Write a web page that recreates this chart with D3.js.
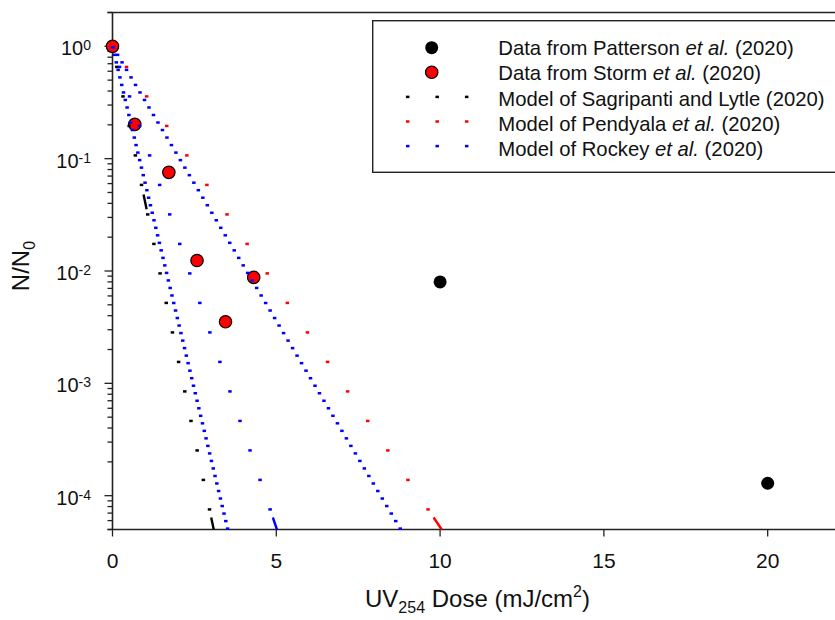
<!DOCTYPE html>
<html>
<head>
	<meta charset="UTF-8">
	<title>UV254 inactivation</title>
	<script type="text/javascript" src="https://cdnjs.cloudflare.com/ajax/libs/d3/7.8.5/d3.min.js"></script>
	<style>
		body { margin: 0; background: #fff; }
		text { font-family: Arial, "Liberation Sans", sans-serif; fill: #111; }
	</style>
</head>
<body>
	<div id="chart"></div>
	<script type="text/javascript">
	// measured data (dose in mJ/cm2, survival N/N0)
	var pattersonDose = [10, 20];
	var pattersonRatio = [0.0080, 0.000129];

	var stormDose = [0, 0.68, 1.72, 2.58, 3.45, 4.31];
	var stormRatio = [1, 0.202, 0.0755, 0.0124, 0.00353, 0.00877];

	// model lines: straight on log axis from (0, 1) down to the bottom of the axis
	var modelColor = ["black", "red", "blue", "blue", "blue"];
	var modelStyle = ["sparse", "sparse", "dense", "sparse", "dense"];
	var modelStartDose = [0, 0, 0, 0, 0];
	var modelStartRatio = [1, 1, 1, 1, 1];
	var modelEndDose = [3.09, 10.05, 3.52, 5.02, 8.8];
	var modelEndRatio = [5e-5, 5e-5, 5e-5, 5e-5, 5e-5];
	var sagripantiDash = [0.048, 0.0355];

	var xTicks = [0, 5, 10, 15, 20];
	var yTicks = [1, 0.1, 0.01, 0.001, 0.0001];
	var yTickExp = ["0", "-1", "-2", "-3", "-4"];

	var legendLabels = [
		["Data from Patterson ", "et al.", " (2020)"],
		["Data from Storm ", "et al.", " (2020)"],
		["Model of Sagripanti and Lytle (2020)", "", ""],
		["Model of Pendyala ", "et al.", " (2020)"],
		["Model of Rockey ", "et al.", " (2020)"]
	];
	var legendKind = ["black", "red", "black", "red", "blue"];

	var width = 835, height = 620;
	var svg = d3.select("#chart").append("svg").attr("width", width).attr("height", height);

	var x = d3.scaleLinear().domain([0, 22]).range([112.5, 833.2]);
	var y = d3.scaleLog().domain([5e-5, 2]).range([529.5, 12.5]);
	var axisColor = "#222";

	// frame: left axis, bottom axis, top line
	svg.append("line").attr("x1", x(0)).attr("x2", x(0)).attr("y1", y(2)).attr("y2", y(5e-5))
		.attr("stroke", axisColor).attr("stroke-width", 1.6);
	svg.append("line").attr("x1", x(0) - 5).attr("x2", width).attr("y1", y(5e-5)).attr("y2", y(5e-5))
		.attr("stroke", axisColor).attr("stroke-width", 1.6);
	svg.append("line").attr("x1", x(0) - 5).attr("x2", width).attr("y1", y(2)).attr("y2", y(2))
		.attr("stroke", axisColor).attr("stroke-width", 1.6);

	// x ticks
	xTicks.forEach(function(t) {
		svg.append("line").attr("x1", x(t)).attr("x2", x(t)).attr("y1", y(5e-5)).attr("y2", y(5e-5) + 7)
			.attr("stroke", axisColor).attr("stroke-width", 1.3);
		svg.append("text").attr("x", x(t)).attr("y", y(5e-5) + 38)
			.attr("text-anchor", "middle").style("font-size", "21px").text(t);
	});

	// y ticks, major and minor
	var minor = [];
	for (var p = -5; p <= 0; p++) {
		for (var m = 2; m <= 9; m++) {
			var v = m * Math.pow(10, p);
			if (v >= 5e-5 && v <= 2) minor.push(v);
		}
	}
	minor.forEach(function(v) {
		svg.append("line").attr("x1", x(0) - 5).attr("x2", x(0)).attr("y1", y(v)).attr("y2", y(v))
			.attr("stroke", axisColor).attr("stroke-width", 1.3);
	});
	yTicks.forEach(function(t, i) {
		svg.append("line").attr("x1", x(0) - 8).attr("x2", x(0)).attr("y1", y(t)).attr("y2", y(t))
			.attr("stroke", axisColor).attr("stroke-width", 1.3);
		var lab = svg.append("text").attr("x", 91).attr("y", y(t) + 9)
			.attr("text-anchor", "end").style("font-size", "20px");
		lab.append("tspan").text("10");
		lab.append("tspan").attr("dy", -5).style("font-size", "14px").text(yTickExp[i]);
	});

	// axis titles
	var xt = svg.append("text").attr("x", 365).attr("y", 607).style("font-size", "24px");
	xt.append("tspan").text("UV");
	xt.append("tspan").attr("dy", 6).style("font-size", "16px").text("254");
	xt.append("tspan").attr("dy", -6).text(" Dose (mJ/cm");
	xt.append("tspan").attr("dy", -10).style("font-size", "16px").text("2");
	xt.append("tspan").attr("dy", 10).text(")");

	var yt = svg.append("text").attr("transform", "translate(29,266) rotate(-90)")
		.attr("text-anchor", "middle").style("font-size", "24px");
	yt.append("tspan").text("N/N");
	yt.append("tspan").attr("dy", 6).style("font-size", "16px").text("0");

	// data markers
	pattersonDose.forEach(function(d, i) {
		svg.append("circle").attr("cx", x(d)).attr("cy", y(pattersonRatio[i])).attr("r", 6.5)
			.attr("fill", "black");
	});
	stormDose.forEach(function(d, i) {
		svg.append("circle").attr("cx", x(d)).attr("cy", y(stormRatio[i])).attr("r", 6.2)
			.attr("fill", "red").attr("stroke", "black").attr("stroke-width", 1.2);
	});

	// model lines drawn as dotted runs, dots evenly spaced in y
	function dot(cx, cy, color) {
		svg.append("rect").attr("x", cx - 1.75).attr("y", cy - 1.25)
			.attr("width", 3.5).attr("height", 2.5).attr("fill", color);
	}
	modelEndDose.forEach(function(d, i) {
		var x0 = x(modelStartDose[i]), y0 = y(modelStartRatio[i]);
		var x1 = x(d), y1 = y(modelEndRatio[i]);
		var xAt = function(py) { return x0 + (x1 - x0) * (py - y0) / (y1 - y0); };
		var color = modelColor[i];
		if (modelStyle[i] == "dense") {
			for (var py = y0 + 1; py <= y1 + 0.5; py += 7.52) dot(xAt(py), py, color);
		} else {
			for (var py = y0 + 20.6; py <= y1 - 12; py += 29.5) dot(xAt(py), py, color);
			svg.append("line").attr("x1", xAt(y1 - 12)).attr("y1", y1 - 12).attr("x2", x1).attr("y2", y1)
				.attr("stroke", color).attr("stroke-width", 2.4);
		}
		if (i == 0) {
			var ya = y(sagripantiDash[0]), yb = y(sagripantiDash[1]);
			svg.append("line").attr("x1", xAt(ya)).attr("y1", ya).attr("x2", xAt(yb)).attr("y2", yb)
				.attr("stroke", color).attr("stroke-width", 2.4);
		}
	});

	// legend
	svg.append("rect").attr("x", 372.7).attr("y", 20.7).attr("width", 500).attr("height", 151.6)
		.attr("fill", "white").attr("stroke", axisColor).attr("stroke-width", 1.4);
	legendLabels.forEach(function(parts, i) {
		var sy = 47.7 + i * 24.6;
		if (i == 0) {
			svg.append("circle").attr("cx", 431.7).attr("cy", sy).attr("r", 6.5).attr("fill", "black");
		} else if (i == 1) {
			svg.append("circle").attr("cx", 431.7).attr("cy", sy).attr("r", 6.2)
				.attr("fill", "red").attr("stroke", "black").attr("stroke-width", 1.2);
		} else {
			[407.7, 437.2, 466.7].forEach(function(px) { dot(px, sy, legendKind[i]); });
		}
		var t = svg.append("text").attr("x", 498.3).attr("y", 55 + i * 25.3).style("font-size", "20.3px");
		t.append("tspan").text(parts[0]);
		if (parts[1]) t.append("tspan").style("font-style", "italic").text(parts[1]);
		if (parts[2]) t.append("tspan").text(parts[2]);
	});
	</script>
</body>
</html>
